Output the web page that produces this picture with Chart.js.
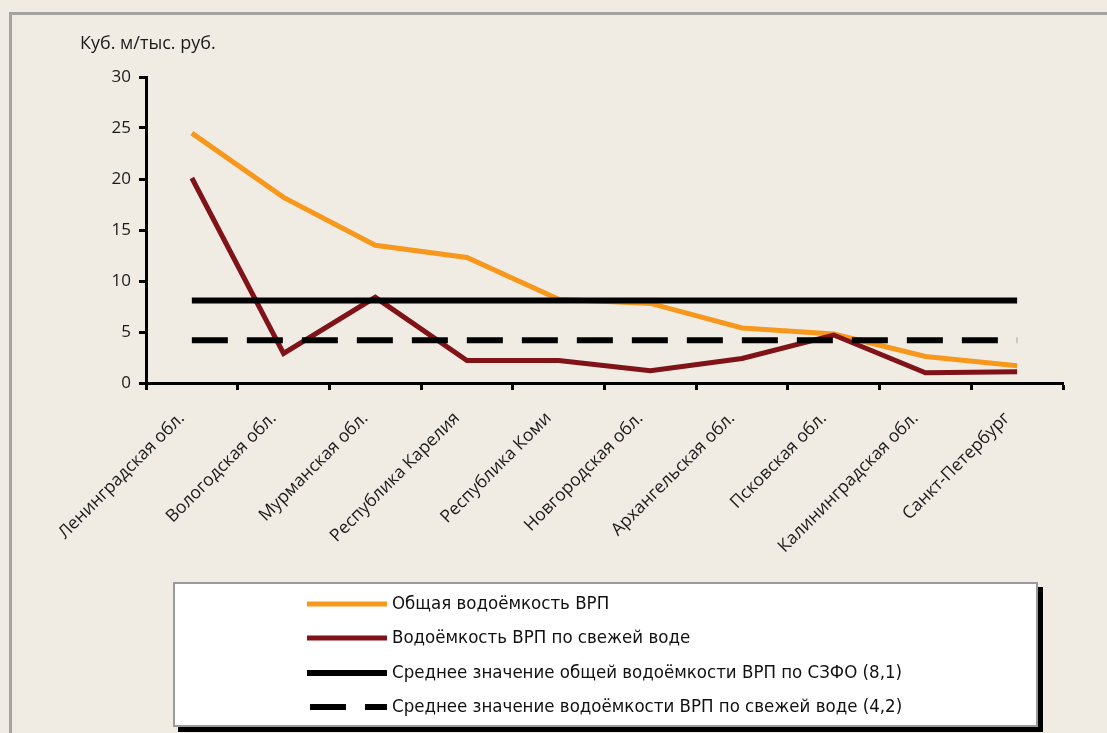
<!DOCTYPE html>
<html>
<head>
<meta charset="utf-8">
<script src="https://cdn.jsdelivr.net/npm/chart.js@4"></script>
<style>
  html, body { margin: 0; padding: 0; }
  body { width: 1107px; height: 733px; background: #f0ece4; position: relative; overflow: hidden;
         font-family: "Open Sans", "Noto Sans", sans-serif; }
  #frame { position: absolute; left: 9px; top: 12px; width: 1120px; height: 760px;
           border-left: 3px solid #a3a3a0; border-top: 3px solid #a3a3a0; }
  #wrap { position: absolute; left: 0; top: 0; width: 1107px; height: 733px; }
  #yTitle { position: absolute; left: 80px; top: 30px; font-size: 18px; color: #1a1a1a; }
  #legend { position: absolute; left: 173px; top: 582px; width: 861px; height: 141px;
            background: #fff; border: 2px solid #9a9a9a; box-shadow: 5px 5px 0 #000; }
  .item { position: absolute; left: 132px; height: 20px; }
  .item svg { position: absolute; left: 0; top: 0; }
  .item span { position: absolute; left: 85px; top: -2px; white-space: nowrap; font-size: 18.5px;
               font-family: "Liberation Sans Narrow", "DejaVu Sans Condensed", "Roboto", sans-serif; color: #111; }
</style>
</head>
<body>
<div id="frame"></div>
<div id="wrap"><canvas id="myChart" width="1107" height="733"></canvas></div>
<div id="yTitle">Куб. м/тыс. руб.</div>
<div id="legend"></div>
<script>
  const regions = ['Ленинградская обл.', 'Вологодская обл.', 'Мурманская обл.', 'Республика Карелия',
    'Республика Коми', 'Новгородская обл.', 'Архангельская обл.', 'Псковская обл.',
    'Калининградская обл.', 'Санкт-Петербург'];
  const totalIntensity = [24.5, 18.2, 13.5, 12.3, 8.2, 7.8, 5.4, 4.8, 2.6, 1.7];
  const freshIntensity = [20.1, 2.9, 8.4, 2.2, 2.2, 1.2, 2.4, 4.7, 1.0, 1.1];
  const totalAvg = 8.1;
  const freshAvg = 4.2;
  const yTicks = [0, 5, 10, 15, 20, 25, 30];

  const seriesNames = [
    'Общая водоёмкость ВРП',
    'Водоёмкость ВРП по свежей воде',
    'Среднее значение общей водоёмкости ВРП по СЗФО (8,1)',
    'Среднее значение водоёмкости ВРП по свежей воде (4,2)'
  ];

  const datasets = [
    { label: seriesNames[0], data: totalIntensity, borderColor: '#f7981d', borderWidth: 5, order: 4 },
    { label: seriesNames[1], data: freshIntensity, borderColor: '#7f1318', borderWidth: 5, order: 3 },
    { label: seriesNames[2], data: regions.map(() => totalAvg), borderColor: '#000', borderWidth: 6, order: 2 },
    { label: seriesNames[3], data: regions.map(() => freshAvg), borderColor: '#000', borderWidth: 6,
      borderDash: [36, 19], order: 1 }
  ];
  datasets.forEach(d => { d.pointRadius = 0; d.tension = 0; d.fill = false; d.borderCapStyle = 'butt'; });

  const ctx = document.getElementById('myChart').getContext('2d');
  new Chart(ctx, {
    type: 'line',
    data: { labels: regions, datasets: datasets },
    options: {
      responsive: false,
      animation: false,
      layout: { padding: { left: 0, top: 77, right: 44, bottom: 150 } },
      plugins: { legend: { display: false }, tooltip: { enabled: false } },
      scales: {
        x: {
          offset: true,
          border: { color: '#000', width: 3 },
          grid: { display: true, drawOnChartArea: false, drawTicks: true, tickLength: 7,
                  tickColor: '#000', tickWidth: 3, offset: true },
          ticks: { minRotation: 45, maxRotation: 45, autoSkip: false, padding: 18, labelOffset: -10,
                   color: '#1a1a1a', font: { family: 'Open Sans', size: 17.5 } },
          afterFit: s => { s.height = 200; }
        },
        y: {
          min: 0, max: 30,
          afterBuildTicks: s => { s.ticks = yTicks.map(v => ({ value: v })); },
          border: { color: '#000', width: 3 },
          grid: { display: true, drawOnChartArea: false, drawTicks: true, tickLength: 7,
                  tickColor: '#000', tickWidth: 3 },
          ticks: { padding: 8, color: '#1a1a1a', font: { family: 'Open Sans', size: 17 } },
          afterFit: s => { s.width = 146; }
        }
      }
    }
  });

  // legend built from the dataset list
  const legend = document.getElementById('legend');
  datasets.forEach((d, i) => {
    const item = document.createElement('div');
    item.className = 'item';
    item.style.top = (10 + i * 34.3) + 'px';
    const dash = d.borderDash ? 'stroke-dasharray="36 19" stroke-dashoffset="-3"' : '';
    item.innerHTML = '<svg width="82" height="20"><line x1="0" y1="10" x2="80" y2="10" stroke="' +
      d.borderColor + '" stroke-width="' + (d.borderWidth) + '" ' + dash + '/></svg><span>' + d.label + '</span>';
    legend.appendChild(item);
  });
</script>
</body>
</html>
